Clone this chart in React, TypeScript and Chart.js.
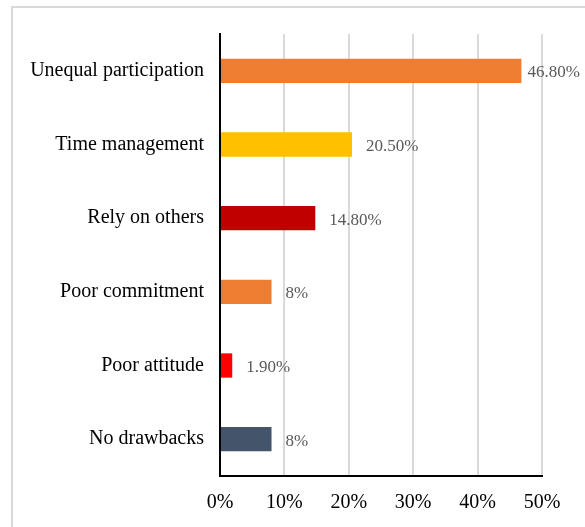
import React, { useEffect, useRef } from "react";
import { Chart, registerables } from "chart.js";

Chart.register(...registerables);

const categories = [
  "Unequal participation",
  "Time management",
  "Rely on others",
  "Poor commitment",
  "Poor attitude",
  "No drawbacks",
];
const values = [46.8, 20.5, 14.8, 8, 1.9, 8];
const valueLabels = ["46.80%", "20.50%", "14.80%", "8%", "1.90%", "8%"];
const barColors = ["#ED7D31", "#FFC000", "#C00000", "#ED7D31", "#FF0000", "#44546A"];
const tickValues = [0, 10, 20, 30, 40, 50];

const framePlugin = {
  id: "frame",
  beforeDraw(chart: any) {
    const ctx = chart.ctx;
    ctx.save();
    ctx.fillStyle = "#ffffff";
    ctx.fillRect(0, 0, chart.width, chart.height);
    ctx.strokeStyle = "#d9d9d9";
    ctx.lineWidth = 2;
    ctx.strokeRect(12, 7, chart.width + 50, chart.height + 50);
    ctx.restore();
  },
};

const labelPlugin = {
  id: "valueLabels",
  afterDatasetsDraw(chart: any) {
    const ctx = chart.ctx;
    const meta = chart.getDatasetMeta(0);
    ctx.save();
    ctx.font = "17px 'Liberation Serif'";
    ctx.fillStyle = "#595959";
    ctx.textBaseline = "middle";
    ctx.textAlign = "left";
    meta.data.forEach((bar: any, i: number) => {
      const text = valueLabels[i];
      const w = ctx.measureText(text).width;
      let x = bar.x + 14;
      if (x + w > chart.width - 5) x = chart.width - 5 - w;
      ctx.fillText(text, x, bar.y + 2);
    });
    ctx.restore();
  },
};

export default function App() {
  const ref = useRef<HTMLCanvasElement>(null);
  useEffect(() => {
    if (!ref.current) return;
    const chart = new Chart(ref.current, {
      type: "bar",
      data: {
        labels: categories,
        datasets: [
          {
            data: values,
            backgroundColor: barColors,
            borderWidth: 0,
            barPercentage: 0.33,
            categoryPercentage: 1,
          },
        ],
      },
      options: {
        indexAxis: "y",
        responsive: false,
        animation: false,
        layout: { padding: { left: 0, top: 34, right: 43, bottom: 0 } },
        plugins: {
          legend: { display: false },
          tooltip: { enabled: false },
        },
        scales: {
          x: {
            min: 0,
            max: 50,
            afterBuildTicks(scale: any) {
              scale.ticks = tickValues.map((v) => ({ value: v }));
            },
            afterFit(scale: any) {
              scale.height = 51;
            },
            grid: { color: "#d9d9d9", lineWidth: 2, drawTicks: false },
            border: { display: true, color: "#000000", width: 2 },
            ticks: {
              padding: 15,
              color: "#000000",
              font: { family: "'Liberation Serif'", size: 20 },
              callback: (v: any) => v + "%",
              maxRotation: 0,
            },
          },
          y: {
            afterFit(scale: any) {
              scale.width = 220;
            },
            grid: { display: false, drawTicks: false },
            border: { display: true, color: "#000000", width: 2 },
            ticks: {
              padding: 16,
              color: "#000000",
              font: { family: "'Liberation Serif'", size: 20 },
            },
          },
        },
      },
      plugins: [framePlugin, labelPlugin],
    });
    return () => chart.destroy();
  }, []);
  return (
    <div style={{ position: "absolute", left: 0, top: 0, width: 585, height: 527 }}>
      <canvas ref={ref} width={585} height={527} />
    </div>
  );
}
